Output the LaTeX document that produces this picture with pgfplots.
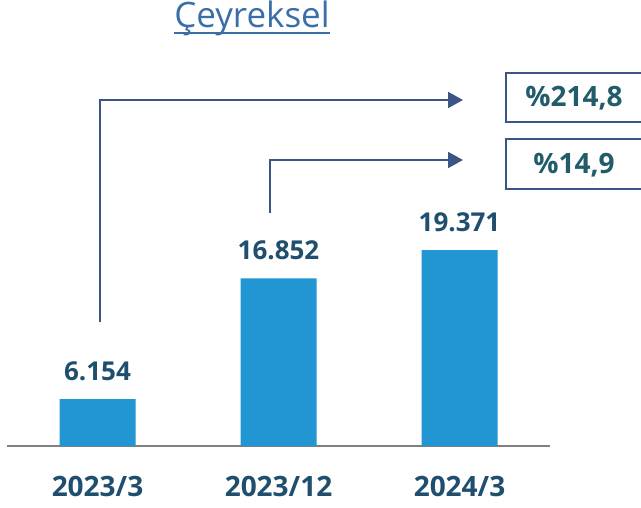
\documentclass[border=0pt]{standalone}
\usepackage{pgfplots}
\pgfplotsset{compat=1.18}
\usepackage{fontspec}
\setmainfont{Open Sans}
\usetikzlibrary{arrows.meta}
\definecolor{barblue}{HTML}{2196D3}
\definecolor{lbl}{HTML}{1F4E6E}
\definecolor{arr}{HTML}{3B5584}
\definecolor{ttl}{HTML}{3A6EA8}
\definecolor{boxt}{HTML}{215C6B}
\begin{document}
\begin{tikzpicture}[x=1pt,y=1pt]
\useasboundingbox (0,0) rectangle (641,507);
\begin{axis}[at={(7pt,61pt)}, anchor=south west, width=543pt, height=446pt, scale only axis,
  xmin=-0.5, xmax=2.5, ymin=2000, ymax=41528,
  axis y line=none, axis x line*=bottom,
  x axis line style={-, draw=gray, line width=1.5pt},
  xtick={0,1,2}, xticklabels={2023/3,2023/12,2024/3},
  major tick length=0pt,
  xticklabel style={font=\bfseries\fontsize{28}{28}\selectfont, text=lbl, yshift=-27pt},
  ybar, bar width=76pt,
  nodes near coords, point meta=explicit symbolic,
  nodes near coords style={font=\bfseries\fontsize{26}{26}\selectfont, text=lbl, yshift=15pt},
]
\addplot[fill=barblue, draw=none] coordinates {(0,6154)[6.154] (1,16852)[16.852] (2,19371)[19.371]};
\end{axis}
\node[anchor=base, inner sep=0, text=ttl, font=\fontsize{35}{35}\selectfont] (t) at (252,479) {Çeyreksel};
\draw[ttl, line width=1.5pt] ([yshift=-5pt]t.base west) -- ([yshift=-5pt]t.base east);
\draw[arr, line width=2pt, -{Triangle[length=15pt,width=16pt]}] (100,185) |- (463,407);
\draw[arr, line width=2pt, -{Triangle[length=15pt,width=16pt]}] (270,294) |- (463,347);
\draw[arr, line width=2pt] (506,385) rectangle (660,434);
\draw[arr, line width=2pt] (506,318) rectangle (660,368);
\node[text=boxt, font=\bfseries\fontsize{28}{28}\selectfont] at (574,409) {\%214,8};
\node[text=boxt, font=\bfseries\fontsize{28}{28}\selectfont] at (574,342) {\%14,9};
\end{tikzpicture}
\end{document}
